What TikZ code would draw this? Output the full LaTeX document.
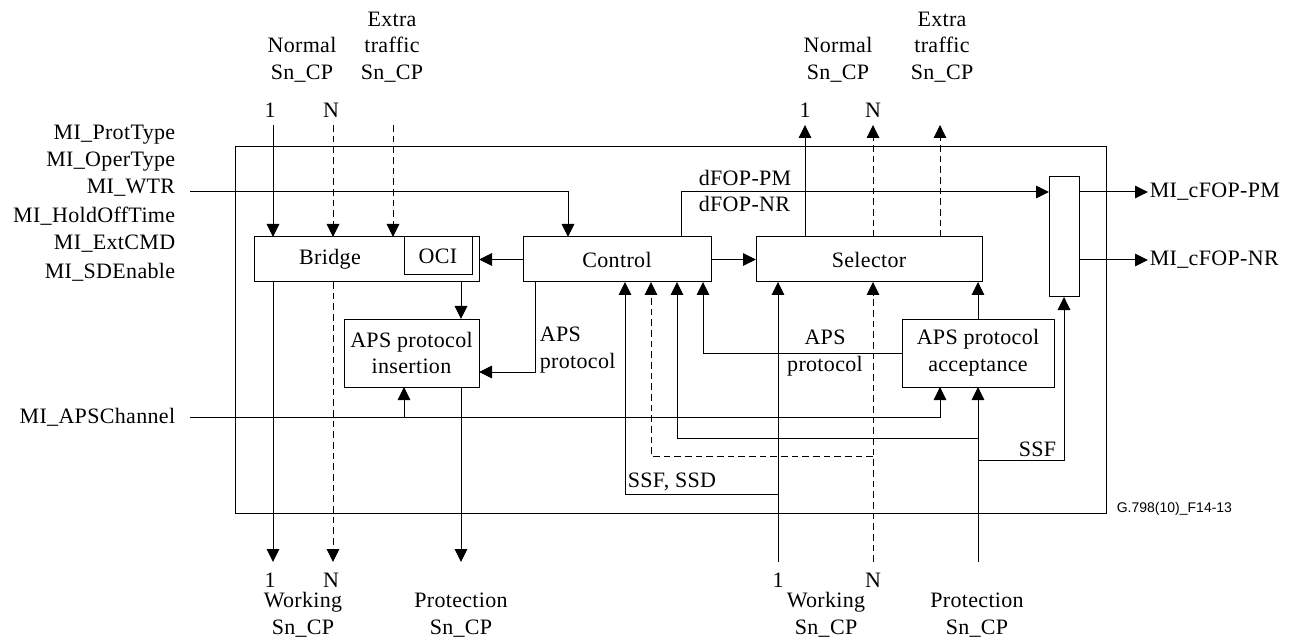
\documentclass[tikz,border=0pt]{standalone}
\usepackage{fontspec}
\setmainfont{Liberation Serif}[LetterSpace=1.5]
\newfontfamily\figsans{Liberation Sans}
\usetikzlibrary{arrows.meta,calc}
\begin{document}
\begin{tikzpicture}[x=0.75pt,y=-0.75pt, line width=0.75pt,
 every node/.style={font=\fontsize{16.5}{20}\selectfont, inner sep=1pt},
 box/.style={draw, inner sep=0pt, outer sep=0pt, align=center},
 lbl/.style={align=center, inner sep=0pt},
 arr/.style={-{Triangle[length=9.75pt,width=9.5pt]}},
 dsh/.style={dash pattern=on 5pt off 3pt}]
\useasboundingbox (0,0) rectangle (1294,641);

% boxes
\node[box, minimum width=653.25pt, minimum height=274.5pt] (frame) at (670.5,330) {};
\node[box, minimum width=168.75pt, minimum height=33.75pt] (bridge) at (366.5,259.5) {};
\node (bridgetxt) at (330,259) {Bridge};
\node[box, minimum width=51pt, minimum height=28.5pt] (oci) at (438,256) {OCI};
\node[box, minimum width=141pt, minimum height=33.75pt] (ctrl) at (617,259.5) {Control};
\node[box, minimum width=169.5pt, minimum height=33.75pt] (sel) at (869,259.5) {Selector};
\node[box, minimum width=101.25pt, minimum height=51pt] (ins) at (411.5,353) {APS protocol\\insertion};
\node[box, minimum width=114pt, minimum height=51pt] (acc) at (978,353) {APS protocol\\acceptance};
\node[box, minimum width=22.5pt, minimum height=90pt] (mux) at (1064,237) {};

% left labels
\node[anchor=east] (mpt) at (177,135) {MI\_ProtType};
\node[anchor=east] (mot) at (177,162) {MI\_OperType};
\node[anchor=east] (mwtr) at (177,188) {MI\_WTR};
\node[anchor=east] (mhot) at (177,216) {MI\_HoldOffTime};
\node[anchor=east] (mext) at (177,244) {MI\_ExtCMD};
\node[anchor=east] (msde) at (177,272) {MI\_SDEnable};
\node[anchor=east] (maps) at (177,417) {MI\_APSChannel};

% top labels
\node[lbl] (nrmL) at (302,60) {Normal\\Sn\_CP};
\node[lbl] (extL) at (392,47) {Extra\\traffic\\Sn\_CP};
\node[lbl] (nrmR) at (838,60) {Normal\\Sn\_CP};
\node[lbl] (extR) at (942,47) {Extra\\traffic\\Sn\_CP};
\node (tn1) at (270,110) {1};
\node (tnN) at (331,110) {N};
\node (sn1) at (805,110) {1};
\node (snN) at (873,110) {N};

% bottom labels
\node (bn1) at (270,580) {1};
\node (bnN) at (331,580) {N};
\node (wn1) at (778,580) {1};
\node (wnN) at (873,580) {N};
\node[lbl] (wkL) at (303,615) {Working\\Sn\_CP};
\node[lbl] (prL) at (461,615) {Protection\\Sn\_CP};
\node[lbl] (wkR) at (826,615) {Working\\Sn\_CP};
\node[lbl] (prR) at (977,615) {Protection\\Sn\_CP};

% inner labels
\node[anchor=west] (dpm) at (697,178) {dFOP-PM};
\node[anchor=west] (dnr) at (697,204) {dFOP-NR};
\node[anchor=west, align=left] (apsl) at (538,350) {APS\\protocol};
\node[align=center] (apsr) at (825,353) {APS\\protocol};
\node[anchor=west] (ssd) at (626,482) {SSF, SSD};
\node[anchor=east] (ssf) at (1058,449) {SSF};
\node[anchor=west] (cpm) at (1148,192) {MI\_cFOP-PM};
\node[anchor=west] (cnr) at (1148,260) {MI\_cFOP-NR};
\node[anchor=west, font=\figsans\fontsize{10.5}{12}\selectfont] (fid) at (1115,509) {G.798(10)\_F14-13};

% coordinates
\coordinate (tA) at (273,125); \coordinate (tB) at (333,125); \coordinate (tC) at (393,125);
\coordinate (bA) at (273,562); \coordinate (bB) at (333,562); \coordinate (bP) at (461,562);
\coordinate (sA) at (805,125); \coordinate (sB) at (873,125); \coordinate (sC) at (940,125);
\coordinate (wA) at (778,562); \coordinate (wB) at (873,562); \coordinate (pP) at (978,562);
\coordinate (wtr) at (190,192);
\coordinate (apsc) at (190,417);
\coordinate (apsb) at (404,417);

% bridge side
\draw[arr] (tA) -- (tA |- bridge.north);
\draw[arr,dsh] (tB) -- (tB |- bridge.north);
\draw[arr,dsh] (tC) -- (tC |- bridge.north);
\draw[arr] (bA |- bridge.south) -- (bA);
\draw[arr,dsh] (bB |- bridge.south) -- (bB);
\draw[arr] (bP |- bridge.south) -- (bP |- ins.north);
\draw[arr] (bP |- ins.south) -- (bP);

% control
\draw[arr] (wtr) -| (568,0 |- ctrl.north);
\draw[arr] (ctrl.west) -- (bridge.east |- ctrl.west);
\draw[arr] (ctrl.east) -- (sel.west);
\draw[arr] (681,0 |- ctrl.north) |- (mux.west |- 0,192);
\draw[arr] (535,0 |- ctrl.south) |- (ins.east |- 0,372);

% mux outputs
\draw[arr] (mux.east |- cpm) -- (cpm.west);
\draw[arr] (mux.east |- cnr) -- (cnr.west);

% selector side
\draw[arr] (sA |- sel.north) -- (sA);
\draw[arr,dsh] (sB |- sel.north) -- (sB);
\draw[arr,dsh] (sC |- sel.north) -- (sC);
\draw[arr] (wA) -- (wA |- sel.south);
\draw[arr,dsh] (wB) -- (wB |- sel.south);
\draw[arr] (pP) -- (acc.south);
\draw[arr] (acc.north) -- (acc.north |- sel.south);
\draw[arr] (wA |- 0,494) -| (625,0 |- ctrl.south);
\draw[arr,dsh] (wB |- 0,456) -| (651,0 |- ctrl.south);
\draw[arr] (pP |- 0,438) -| (677,0 |- ctrl.south);
\draw[arr] (pP |- 0,460) -| (mux.south);
\draw[arr] (acc.west) -| (703,0 |- ctrl.south);

% APS channel
\draw[arr] (apsc) -| (940,0 |- acc.south);
\draw[arr] (apsb) -- (apsb |- ins.south);
\end{tikzpicture}
\end{document}
